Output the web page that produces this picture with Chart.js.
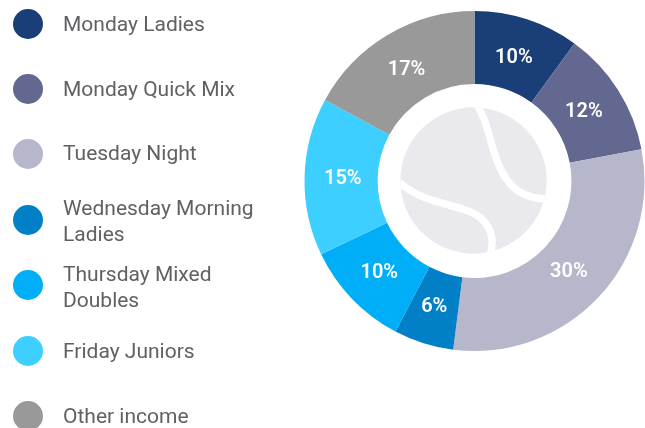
<!DOCTYPE html>
<html>
<head>
<meta charset="utf-8">
<script src="https://cdn.jsdelivr.net/npm/chart.js@4"></script>
<style>
html, body { margin: 0; padding: 0; background: #fff; overflow: hidden; }
#wrap { position: relative; width: 645px; height: 428px; }
#myChart { position: absolute; left: 0; top: 0; }
.legendItem { position: absolute; left: 63px; color: #606164; font: 21px/26px Roboto, sans-serif; }
.legendDot { position: absolute; left: 13px; width: 30px; height: 30px; border-radius: 50%; }
</style>
</head>
<body>
<div id="wrap">
    <canvas id="myChart" width="645" height="428"></canvas>
    <div id="legend"></div>
</div>
<script>
const labels = ['Monday Ladies', 'Monday Quick Mix', 'Tuesday Night', 'Wednesday Morning Ladies', 'Thursday Mixed Doubles', 'Friday Juniors', 'Other income'];
const legendLines = [['Monday Ladies'], ['Monday Quick Mix'], ['Tuesday Night'], ['Wednesday Morning', 'Ladies'], ['Thursday Mixed', 'Doubles'], ['Friday Juniors'], ['Other income']];
const values = [10, 12, 30, 5.7, 10.2, 15, 17.1];
const colors = ['#1a3e78', '#626890', '#b7b7cc', '#0180c8', '#00aef8', '#3ccfff', '#999999'];
const dotTops = [9, 74, 139, 205, 270, 336, 401];
const textTops = [11, 76, 140, 195, 261, 338, 403];

let legendHtml = '';
labels.forEach((label, i) => {
    legendHtml += `<div class="legendDot" style="top:${dotTops[i]}px;background:${colors[i]}"></div>`;
    legendHtml += `<div class="legendItem" style="top:${textTops[i]}px">${legendLines[i].join('<br>')}</div>`;
});
document.getElementById('legend').innerHTML = legendHtml;

// percent labels on the ring
const percentLabels = {
    id: 'percentLabels',
    afterDatasetsDraw(chart) {
        const ctx = chart.ctx;
        const arcs = chart.getDatasetMeta(0).data;
        ctx.save();
        ctx.fillStyle = '#fff';
        ctx.font = '600 20px Roboto, sans-serif';
        ctx.textAlign = 'center';
        ctx.textBaseline = 'middle';
        arcs.forEach((arc, i) => {
            const p = arc.tooltipPosition();
            const x = arc.x + (p.x - arc.x) * 0.98 - 1;
            const y = arc.y + (p.y - arc.y) * 0.98 + 1;
            ctx.fillText(Math.round(values[i]) + '%', x, y);
        });
        ctx.restore();
    }
};

// tennis ball in the hole
const ballPicture = {
    id: 'ballPicture',
    afterDatasetsDraw(chart) {
        const ctx = chart.ctx;
        const arc = chart.getDatasetMeta(0).data[0];
        const r = arc.innerRadius * 0.755;
        ctx.save();
        ctx.translate(arc.x - 1, arc.y - 0.5);
        ctx.beginPath();
        ctx.arc(0, 0, r, 0, Math.PI * 2);
        ctx.fillStyle = '#e9e9ee';
        ctx.fill();
        ctx.clip();
        ctx.strokeStyle = '#fff';
        ctx.lineWidth = r * 0.1;
        ctx.beginPath();
        ctx.moveTo(r * 0.03, -r * 1.05);
        ctx.bezierCurveTo(r * 0.32, -r * 0.7, r * 0.2, r * 0.27, r * 1.02, r * 0.25);
        ctx.stroke();
        ctx.beginPath();
        ctx.moveTo(-r * 1.02, r * 0.02);
        ctx.bezierCurveTo(-r * 0.7, r * 0.3, -r * 0.35, r * 0.3, -r * 0.04, r * 0.43);
        ctx.bezierCurveTo(r * 0.15, r * 0.5, r * 0.33, r * 0.72, r * 0.22, r * 1.03);
        ctx.stroke();
        ctx.restore();
    }
};

new Chart(document.getElementById('myChart'), {
    type: 'doughnut',
    data: {
        labels: labels,
        datasets: [{
            data: values,
            backgroundColor: colors,
            borderWidth: 0
        }]
    },
    options: {
        responsive: false,
        animation: false,
        cutout: '57%',
        layout: { padding: { left: 304, right: 0, top: 11, bottom: 77 } },
        plugins: { legend: { display: false }, tooltip: { enabled: false } }
    },
    plugins: [percentLabels, ballPicture]
});
</script>
</body>
</html>
